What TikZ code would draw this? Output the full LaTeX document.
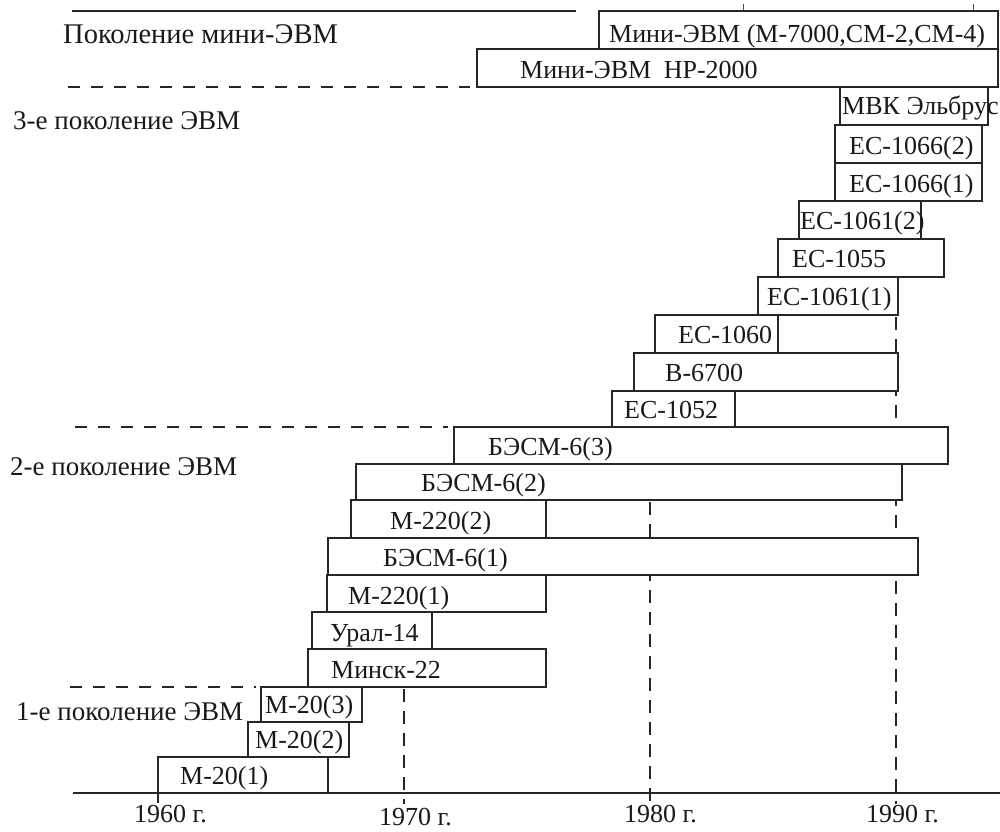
\documentclass[tikz,border=0pt]{standalone}
\usepackage{fontspec}
\setmainfont{Liberation Serif}
\tikzset{
  boxline/.style={draw=black!85, line width=1.4pt, fill=white},
  lbl/.style={font=\fontsize{26}{30}\selectfont, inner sep=0pt, anchor=base west, text=black!90},
  gen/.style={font=\fontsize{27}{31}\selectfont, inner sep=0pt, anchor=base west, text=black!90},
  hdash/.style={draw=black!85, line width=1.2pt, dash pattern=on 12pt off 11pt},
  vdash/.style={draw=black!85, line width=1.3pt, dash pattern=on 13pt off 9pt},
  axisline/.style={draw=black!85, line width=1.4pt},
  tickline/.style={draw=black!85, line width=1.3pt}
}
\newcommand\mybox[8]{%
  \draw[boxline] (#2,#3) rectangle (#4,#5);
  \node[lbl] (#1) at (#6,#7) {#8};}
\begin{document}
\begin{tikzpicture}[x=1pt,y=-1pt]
\fill[white] (0,0) rectangle (1000,831);
\useasboundingbox (0,0) rectangle (1000,831);

% generation separators
\coordinate (t1) at (72,11);   \coordinate (t2) at (576,11);
\draw[axisline] (t1) -- (t2);
\coordinate (d1a) at (68,87);  \coordinate (d1b) at (470,87);
\draw[hdash] (d1a) -- (d1b);
\coordinate (d2a) at (75,427); \coordinate (d2b) at (448,427);
\draw[hdash] (d2a) -- (d2b);
\coordinate (d3a) at (70,687); \coordinate (d3b) at (256,687);
\draw[hdash] (d3a) -- (d3b);

% small marks at top
\coordinate (m1a) at (743,4); \coordinate (m1b) at (743,11);
\coordinate (m2a) at (973,4); \coordinate (m2b) at (973,11);
\draw[black!70, line width=0.8pt] (m1a) -- (m1b);
\draw[black!70, line width=0.8pt] (m2a) -- (m2b);

% axis
\coordinate (ax1) at (73,793); \coordinate (ax2) at (1000,793);
\draw[axisline] (ax1) -- (ax2);

% year lines
\coordinate (y60a) at (158,793); \coordinate (y60b) at (158,803);
\draw[tickline] (y60a) -- (y60b);
\coordinate (y70a) at (404,689); \coordinate (y70b) at (404,804);
\draw[vdash] (y70a) -- (y70b);
\coordinate (y80a) at (650,502); \coordinate (y80b) at (650,804);
\draw[vdash] (y80a) -- (y80b);
\coordinate (y90a) at (896,317); \coordinate (y90b) at (896,804);
\draw[vdash] (y90a) -- (y90b);

% generation labels
\node[gen, font=\fontsize{28.5}{32}\selectfont] (g0) at (63,43) {Поколение мини-ЭВМ};
\node[gen] (g3) at (13,129) {3-е поколение ЭВМ};
\node[gen] (g2) at (10,475) {2-е поколение ЭВМ};
\node[gen] (g1) at (16,720) {1-е поколение ЭВМ};

% computer boxes
\mybox{mA}{599}{11}{998}{49}{609}{42}{Мини-ЭВМ (М-7000,СМ-2,СМ-4)}
\mybox{mB}{477}{49}{998}{87}{520}{78}{Мини-ЭВМ\hspace{6pt} HP-2000}
\mybox{elb}{840}{87}{988}{125}{842}{114}{МВК Эльбрус}
\mybox{es66b}{835}{125}{982}{163}{849}{154}{ЕС-1066(2)}
\mybox{es66a}{835}{163}{982}{201}{849}{192}{ЕС-1066(1)}
\mybox{es61b}{799}{201}{921}{239}{800}{229}{ЕС-1061(2)}
\mybox{es55}{778}{239}{944}{277}{792}{267}{ЕС-1055}
\mybox{es61a}{758}{277}{898}{315}{767}{305}{ЕС-1061(1)}
\mybox{es60}{655}{315}{778}{353}{678}{343}{ЕС-1060}
\mybox{b67}{634}{353}{898}{391}{665}{381}{В-6700}
\mybox{es52}{612}{391}{735}{427}{624}{418}{ЕС-1052}
\mybox{bs3}{454}{427}{948}{464}{488}{455}{БЭСМ-6(3)}
\mybox{bs2}{356}{464}{902}{500}{421}{491}{БЭСМ-6(2)}
\mybox{m2b}{351}{500}{546}{538}{390}{529}{М-220(2)}
\mybox{bs1}{328}{538}{918}{575}{383}{566}{БЭСМ-6(1)}
\mybox{m2a}{327}{575}{546}{612}{348}{604}{М-220(1)}
\mybox{ural}{312}{612}{432}{649}{330}{641}{Урал-14}
\mybox{minsk}{308}{649}{546}{687}{331}{678}{Минск-22}
\mybox{m20c}{261}{687}{362}{722}{265}{713}{М-20(3)}
\mybox{m20b}{248}{722}{349}{757}{255}{748}{М-20(2)}
\mybox{m20a}{158}{757}{328}{793}{180}{784}{М-20(1)}

% year labels
\node[lbl] (l60) at (134,822) {1960 г.};
\node[lbl] (l70) at (379,825) {1970 г.};
\node[lbl] (l80) at (624,822) {1980 г.};
\node[lbl] (l90) at (866,822) {1990 г.};
\end{tikzpicture}
\end{document}
